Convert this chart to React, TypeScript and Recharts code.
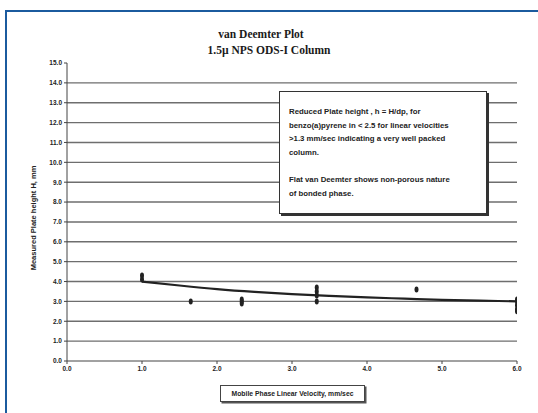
import {
  CartesianGrid,
  ComposedChart,
  Line,
  Scatter,
  XAxis,
  YAxis
} from "recharts";

// Measured plate height (H, mm) vs mobile phase linear velocity (mm/sec)
const velocity = [1.0, 1.0, 1.65, 2.33, 2.33, 2.33, 3.33, 3.33, 3.33, 3.33, 4.66, 6.0, 6.0, 6.0, 6.0, 6.0];
const plateHeight = [4.3, 4.1, 3.0, 3.1, 3.0, 2.9, 3.7, 3.5, 3.3, 3.0, 3.6, 3.1, 3.0, 2.8, 2.6, 2.5];

// Trend line
const trendVelocity = [1.0, 1.5, 2.0, 2.5, 3.0, 3.5, 4.0, 4.5, 5.0, 5.5, 6.0];
const trendHeight = [4.0, 3.8, 3.62, 3.48, 3.37, 3.28, 3.2, 3.14, 3.08, 3.04, 3.0];

const xTicks = [0, 1, 2, 3, 4, 5, 6];
const yTicks = [0, 1, 2, 3, 4, 5, 6, 7, 8, 9, 10, 11, 12, 13, 14, 15];
const gridValues = [1, 2, 3, 4, 5, 6, 7, 8, 9, 10, 11, 12, 13, 14];

const noteLines = [
  "Reduced Plate height , h = H/dp, for",
  "benzo(a)pyrene in < 2.5 for linear velocities",
  ">1.3 mm/sec indicating a very well packed",
  "column.",
  "",
  "Flat van Deemter shows non-porous nature",
  "of bonded phase."
];

const points = velocity.map((v, i) => ({ v, h: plateHeight[i] }));
const trend = trendVelocity.map((v, i) => ({ v, t: trendHeight[i] }));

const tickStyle = { fontSize: 6.5, fill: "#222", fontWeight: 700, fontFamily: "Liberation Sans, Arial, sans-serif" };

function Mark(props: any) {
  const { cx, cy } = props;
  if (cx == null || cy == null) return null;
  return <ellipse cx={cx} cy={cy} rx={2} ry={3} fill="#222" />;
}

export default function App() {
  return (
    <div
      style={{
        position: "absolute",
        left: 0,
        top: 0,
        width: 538,
        height: 413,
        background: "#fff",
        overflow: "hidden",
        fontFamily: "Liberation Sans, Arial, sans-serif"
      }}
    >
      <div
        style={{
          position: "absolute",
          left: 5,
          top: 10,
          width: 560,
          height: 440,
          borderTop: "2.5px solid #1b5b9e",
          borderLeft: "2.5px solid #1b5b9e"
        }}
      />
      <div
        style={{
          position: "absolute",
          left: 0,
          top: 27,
          width: 538,
          textAlign: "center",
          fontFamily: "Liberation Serif, Times New Roman, serif",
          fontWeight: 700,
          fontSize: 11.5,
          lineHeight: "15.5px",
          color: "#1a1a1a"
        }}
      >
        <div style={{ paddingRight: 16 }}>van Deemter Plot</div>
        <div>1.5µ NPS ODS-I Column</div>
      </div>
      <ComposedChart
        width={538}
        height={413}
        data={trend}
        margin={{ top: 63, right: 21, bottom: 32, left: 22 }}
        style={{ position: "absolute", left: 0, top: 0 }}
      >
        <CartesianGrid
          vertical={false}
          horizontalValues={gridValues}
          stroke="#6e6e6e"
          strokeWidth={1.4}
        />
        <XAxis
          type="number"
          dataKey="v"
          domain={[0, 6]}
          ticks={xTicks}
          tickFormatter={(x) => Number(x).toFixed(1)}
          tick={tickStyle}
          tickSize={3}
          height={20}
          stroke="#444"
          allowDataOverflow
        />
        <YAxis
          type="number"
          domain={[0, 15]}
          ticks={yTicks}
          tickFormatter={(y) => Number(y).toFixed(1)}
          tick={tickStyle}
          tickSize={3}
          width={45}
          stroke="#444"
          interval={0}
        />
        <Line
          type="monotone"
          dataKey="t"
          stroke="#222"
          strokeWidth={2.2}
          dot={false}
          isAnimationActive={false}
        />
        <Scatter data={points} dataKey="h" shape={<Mark />} isAnimationActive={false} />
      </ComposedChart>
      <div
        style={{
          position: "absolute",
          left: 33,
          top: 218,
          transform: "translate(-50%, -50%) rotate(-90deg)",
          whiteSpace: "nowrap",
          fontSize: 7.5,
          fontWeight: 700,
          color: "#222"
        }}
      >
        Measured Plate height H, mm
      </div>
      <div
        style={{
          position: "absolute",
          left: 279,
          top: 91,
          width: 208,
          height: 123,
          background: "#fff",
          border: "1px solid #333",
          boxShadow: "2px 2px 0 #333",
          padding: "13px 0 0 9px",
          boxSizing: "border-box",
          fontSize: 7.8,
          fontWeight: 700,
          lineHeight: "13.7px",
          color: "#222",
          whiteSpace: "nowrap"
        }}
      >
        {noteLines.map((l, i) => (
          <div key={i} style={{ height: 13.7 }}>{l}</div>
        ))}
      </div>
      <div
        style={{
          position: "absolute",
          left: 220,
          top: 385,
          width: 145,
          height: 17,
          background: "#fff",
          border: "1px solid #444",
          boxShadow: "1.5px 1.5px 0 #555",
          boxSizing: "border-box",
          fontSize: 6.8,
          fontWeight: 700,
          lineHeight: "15px",
          textAlign: "center",
          color: "#222",
          whiteSpace: "nowrap"
        }}
      >
        Mobile Phase Linear Velocity, mm/sec
      </div>
    </div>
  );
}
